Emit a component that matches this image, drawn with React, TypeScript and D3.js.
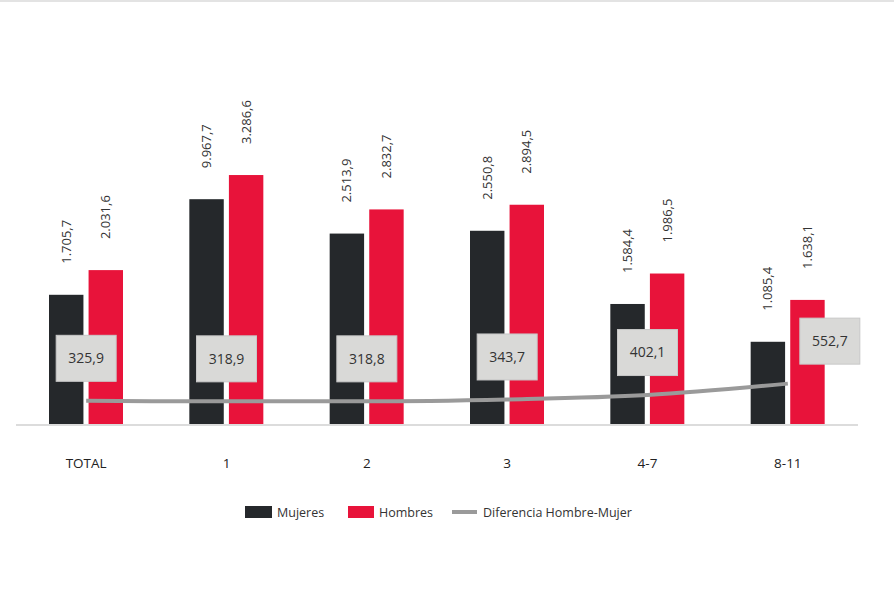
import React, { useEffect, useRef } from 'react';
import * as d3 from 'd3';

const categories = ['TOTAL', '1', '2', '3', '4-7', '8-11'];
const mujeres = [1705.7, 2967.7, 2513.9, 2550.8, 1584.4, 1085.4];
const hombres = [2031.6, 3286.6, 2832.7, 2894.5, 1986.5, 1638.1];
const diferencia = [325.9, 318.9, 318.8, 343.7, 402.1, 552.7];
// labels as printed in the source (second one has a typo in the original)
const mujeresLabels = ['1.705,7', '9.967,7', '2.513,9', '2.550,8', '1.584,4', '1.085,4'];
const hombresLabels = ['2.031,6', '3.286,6', '2.832,7', '2.894,5', '1.986,5', '1.638,1'];
const diferenciaLabels = ['325,9', '318,9', '318,8', '343,7', '402,1', '552,7'];

const W = 894;
const H = 597;
const FONT = "'Open Sans', 'DejaVu Sans', sans-serif";

export default function App() {
    const svgRef = useRef<SVGSVGElement>(null);

    useEffect(() => {
        document.body.style.margin = '0';
        if (!svgRef.current) return;
        const svg = d3.select(svgRef.current);
        svg.selectAll('*').remove();

        const baseY = 424;
        const x = d3.scaleBand<string>().domain(categories).range([16, 858]).padding(0);
        const inner = d3.scaleBand<string>().domain(['m', 'h']).range([33, 107]).paddingInner(0.13);
        const y = d3.scaleLinear().domain([0, 4000]).range([baseY, baseY - 303]);

        // top border
        svg.append('line')
            .attr('x1', 0).attr('x2', W).attr('y1', 1).attr('y2', 1)
            .attr('stroke', '#e3e3e3').attr('stroke-width', 2);

        const groups = svg.append('g').selectAll('g')
            .data(categories)
            .join('g')
            .attr('transform', d => `translate(${x(d)},0)`);

        const series = [
            { key: 'm', values: mujeres, labels: mujeresLabels, color: '#25282b' },
            { key: 'h', values: hombres, labels: hombresLabels, color: '#e8133a' },
        ];

        series.forEach(s => {
            groups.append('rect')
                .attr('x', inner(s.key)!)
                .attr('width', inner.bandwidth())
                .attr('y', (_, i) => y(s.values[i]))
                .attr('height', (_, i) => baseY - y(s.values[i]))
                .attr('fill', s.color);

            groups.append('text')
                .attr('transform', (_, i) => {
                    const cx = inner(s.key)! + inner.bandwidth() / 2 + 4.5;
                    return `translate(${cx},${y(s.values[i]) - 31}) rotate(-90)`;
                })
                .attr('text-anchor', 'start')
                .attr('font-family', FONT)
                .attr('font-size', 13)
                .attr('fill', '#333')
                .text((_, i) => s.labels[i]);
        });

        // axis baseline
        svg.append('line')
            .attr('x1', 16).attr('x2', 858).attr('y1', baseY + 1).attr('y2', baseY + 1)
            .attr('stroke', '#dcdcdc').attr('stroke-width', 2);

        // category labels
        svg.append('g').selectAll('text')
            .data(categories)
            .join('text')
            .attr('x', d => x(d)! + x.bandwidth() / 2)
            .attr('y', 468)
            .attr('text-anchor', 'middle')
            .attr('font-family', FONT)
            .attr('font-size', 13.5)
            .attr('fill', '#222')
            .text(d => d);

        // difference line
        const cx = (i: number) => x(categories[i])! + x.bandwidth() / 2;
        const line = d3.line<number>()
            .x((_, i) => cx(i))
            .y(d => y(d) + 1.5)
            .curve(d3.curveMonotoneX);

        svg.append('path')
            .datum(diferencia)
            .attr('d', line)
            .attr('fill', 'none')
            .attr('stroke', '#9a9a9a')
            .attr('stroke-width', 4);

        // difference labels
        const boxW = 60;
        const boxH = 46;
        const lab = svg.append('g').selectAll('g')
            .data(diferencia)
            .join('g')
            .attr('transform', (d, i) => {
                const last = i === diferencia.length - 1;
                const bx = cx(i) + (last ? 42 : 0);
                const by = y(d) - 41;
                return `translate(${bx},${by})`;
            });
        lab.append('rect')
            .attr('x', -boxW / 2).attr('y', -boxH / 2)
            .attr('width', boxW).attr('height', boxH)
            .attr('fill', '#d9d9d7')
            .attr('stroke', '#c8c8c8');
        lab.append('text')
            .attr('text-anchor', 'middle')
            .attr('dy', '0.35em')
            .attr('font-family', FONT)
            .attr('font-size', 14)
            .attr('fill', '#333')
            .text((_, i) => diferenciaLabels[i]);

        // legend
        const legend = svg.append('g').attr('font-family', FONT).attr('font-size', 12.5).attr('fill', '#333');
        legend.append('rect').attr('x', 245).attr('y', 506).attr('width', 27).attr('height', 12).attr('fill', '#25282b');
        legend.append('text').attr('x', 277).attr('y', 516.5).text('Mujeres');
        legend.append('rect').attr('x', 348).attr('y', 506).attr('width', 26).attr('height', 12).attr('fill', '#e8133a');
        legend.append('text').attr('x', 379).attr('y', 516.5).text('Hombres');
        legend.append('line').attr('x1', 452).attr('x2', 477).attr('y1', 512).attr('y2', 512)
            .attr('stroke', '#9a9a9a').attr('stroke-width', 4);
        legend.append('text').attr('x', 483).attr('y', 516.5).text('Diferencia Hombre-Mujer');
    }, []);

    return (
        <div style={{ width: W, height: H, background: '#fff' }}>
            <svg ref={svgRef} width={W} height={H} style={{ display: 'block' }} />
        </div>
    );
}
